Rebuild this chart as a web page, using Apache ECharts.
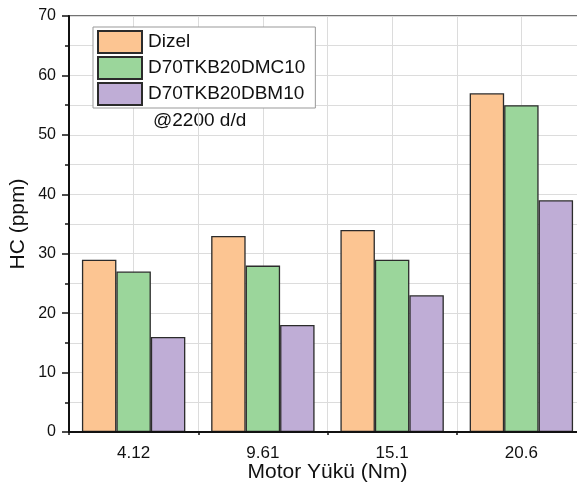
<!DOCTYPE html>
<html>
<head>
<meta charset="utf-8">
<script src="https://cdn.jsdelivr.net/npm/echarts@6/dist/echarts.min.js"></script>
<style>
  html, body { margin: 0; padding: 0; background: #fff; overflow: hidden; }
  #chart { width: 577px; height: 489px; }
</style>
</head>
<body>
<div id="chart"></div>
<script>
// Engine load (Nm) categories and HC emissions (ppm) per fuel blend
const loads = ['4.12', '9.61', '15.1', '20.6'];
const dizel = [29, 33, 34, 57];
const dmc10 = [27, 28, 29, 55];
const dbm10 = [16, 18, 23, 39];
const seriesNames = ['Dizel', 'D70TKB20DMC10', 'D70TKB20DBM10'];
const seriesColors = ['#fcc592', '#9bd69b', '#bfadd6'];

const FONT = 'Arial, "Liberation Sans", sans-serif';
const chart = echarts.init(document.getElementById('chart'), null, { renderer: 'canvas' });

const values = [dizel, dmc10, dbm10];

chart.setOption({
  animation: false,
  backgroundColor: '#fff',
  textStyle: { fontFamily: FONT, color: '#111' },
  grid: {
    // the last category runs past the right edge of the canvas
    left: 69, top: 16, right: -9, bottom: 57,
    outerBoundsMode: 'none',
    containLabel: false,
    show: true, borderColor: '#444', borderWidth: 1.5, backgroundColor: 'transparent'
  },
  legend: {
    orient: 'vertical',
    left: 93, top: 27,
    padding: [3, 10, 2, 4],
    itemWidth: 44, itemHeight: 22, itemGap: 2,
    icon: 'rect',
    borderColor: '#999', borderWidth: 1,
    backgroundColor: '#fff',
    textStyle: { fontSize: 19, fontFamily: FONT, color: '#111', padding: [0, 0, 0, 1] },
    data: seriesNames
  },
  xAxis: [
    {
      type: 'category',
      data: loads,
      name: 'Motor Yükü (Nm)',
      nameLocation: 'middle',
      nameGap: 30,
      nameMoveOverlap: false,
      nameTextStyle: { fontSize: 21, fontFamily: FONT, color: '#111' },
      axisLine: { lineStyle: { color: '#111', width: 2 } },
      axisTick: { alignWithLabel: true, length: 6, lineStyle: { color: '#111', width: 1.5 } },
      axisLabel: { fontSize: 17, fontFamily: FONT, color: '#111', margin: 13 },
      splitLine: { show: false },
      z: 5
    },
    {
      // helper axis: category boundary ticks and vertical grid lines
      type: 'value',
      position: 'bottom',
      min: 0, max: 4, interval: 1,
      axisLine: { show: false },
      axisLabel: { show: false },
      axisTick: { show: true, length: 3, lineStyle: { color: '#111', width: 1.5 } },
      minorTick: { show: false, splitNumber: 2 },
      splitLine: { show: true, lineStyle: { color: '#dcdcdc', width: 1 } },
      minorSplitLine: { show: true, lineStyle: { color: '#dcdcdc', width: 1 } }
    }
  ],
  yAxis: {
    type: 'value',
    min: 0, max: 70, interval: 10,
    name: 'HC (ppm)',
    nameLocation: 'middle',
    nameGap: 40,
    nameMoveOverlap: false,
    nameTextStyle: { fontSize: 21, fontFamily: FONT, color: '#111' },
    axisLine: { show: true, lineStyle: { color: '#111', width: 2 } },
    axisTick: { show: true, length: 7, lineStyle: { color: '#111', width: 1.5 } },
    minorTick: { show: true, splitNumber: 2, length: 4, lineStyle: { color: '#111', width: 1.5 } },
    axisLabel: { fontSize: 16, fontFamily: FONT, color: '#111', margin: 13 },
    splitLine: { show: true, lineStyle: { color: '#dcdcdc', width: 1 } },
    minorSplitLine: { show: true, lineStyle: { color: '#dcdcdc', width: 1 } }
  },
  graphic: [
    {
      type: 'text',
      left: 153, top: 111,
      style: { text: '@2200 d/d', font: '19px ' + FONT, fill: '#111' }
    }
  ],
  series: seriesNames.map((name, i) => ({
    name: name,
    type: 'bar',
    xAxisIndex: 0,
    data: values[i],
    barGap: '0%',
    barCategoryGap: '20%',
    itemStyle: { color: seriesColors[i], borderColor: '#2b2b2b', borderWidth: 1.3 }
  }))
});
</script>
</body>
</html>
